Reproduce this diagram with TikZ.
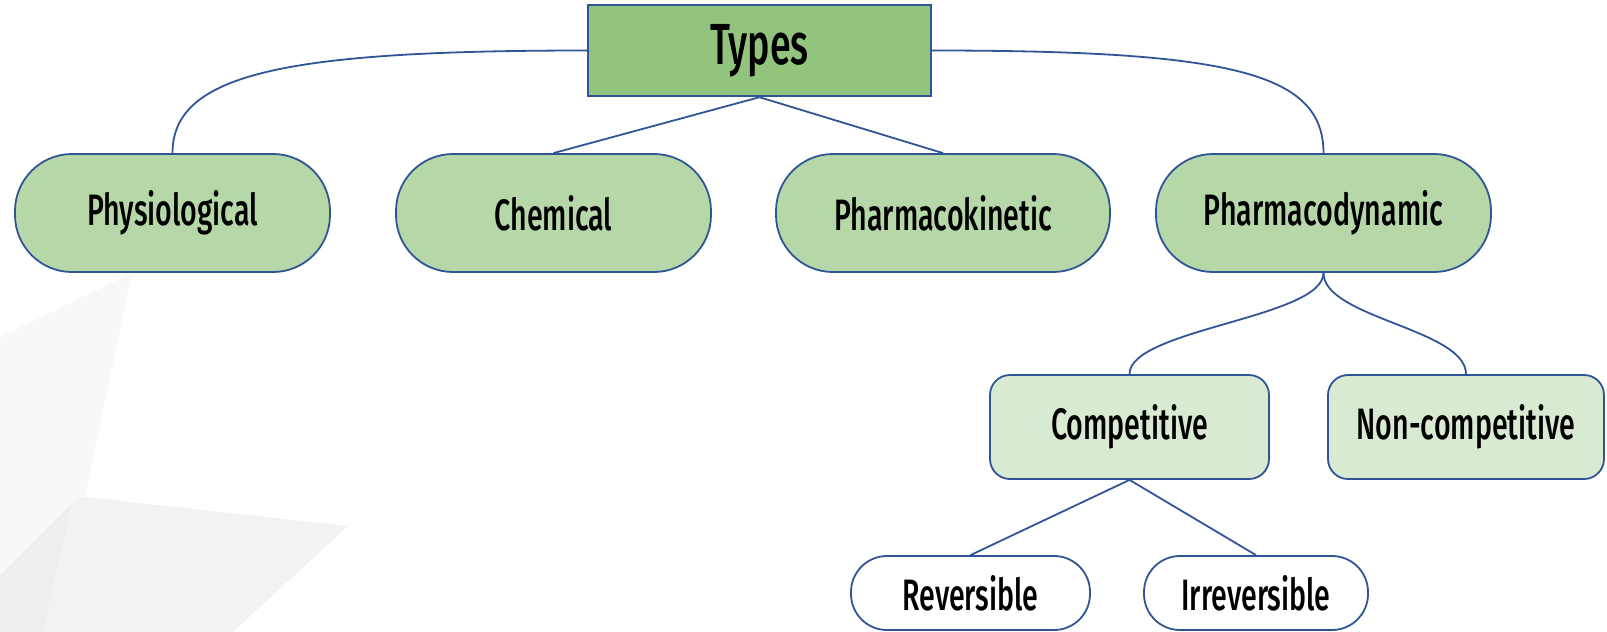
\documentclass[tikz,border=0pt]{standalone}
\usepackage{fontspec}
\setmainfont{Fira Sans Medium}[FakeStretch=0.65]
\definecolor{edge}{RGB}{47,85,151}
\definecolor{typesfill}{RGB}{147,196,125}
\definecolor{pillfill}{RGB}{182,215,168}
\definecolor{boxfill}{RGB}{217,234,211}
\definecolor{bgA}{RGB}{248,248,248}
\definecolor{bgB}{RGB}{242,242,242}
\definecolor{bgC}{RGB}{238,238,238}
\begin{document}
\begin{tikzpicture}[x=0.5pt,y=-0.5pt,
  typebox/.style={draw=edge, line width=1.2pt, fill=typesfill, minimum width=171.5pt, minimum height=45.5pt, inner sep=0pt, font=\fontsize{29}{32}\selectfont},
  pill/.style={draw=edge, line width=0.9pt, fill=pillfill, rounded corners=28.5pt, minimum height=59pt, inner sep=0pt, font=\fontsize{22}{25}\selectfont},
  subbox/.style={draw=edge, line width=0.9pt, fill=boxfill, rounded corners=10pt, minimum height=52pt, inner sep=0pt, font=\fontsize{22}{25}\selectfont},
  leaf/.style={draw=edge, line width=0.9pt, fill=white, rounded corners=18pt, minimum height=37pt, inner sep=0pt, font=\fontsize{22}{25}\selectfont},
  conn/.style={draw=edge, line width=0.9pt}]
\useasboundingbox (0,0) rectangle (1607,632);
% faint background shapes
\fill[bgA] (0,337) -- (132,273) -- (85,497) -- (0,575) -- cycle;
\fill[bgB] (85,497) -- (348,526) -- (233,632) -- (43,632) -- (72,503) -- cycle;
\fill[bgC] (0,575) -- (72,503) -- (43,632) -- (0,632) -- cycle;
% nodes
\node[typebox] (types) at (759.5,50.5) {Types};
\node[pill, minimum width=157.5pt] (phys) at (172.5,213) {Physiological};
\node[pill, minimum width=157.5pt] (chem) at (553.5,213) {Chemical};
\node[pill, minimum width=167pt] (pk) at (943,213) {Pharmacokinetic};
\node[pill, minimum width=167.5pt] (pd) at (1323.5,213) {Pharmacodynamic};
\node[subbox, minimum width=139.5pt] (comp) at (1129.5,427) {Competitive};
\node[subbox, minimum width=138pt] (noncomp) at (1466,427) {Non-competitive};
\node[leaf, minimum width=119.5pt] (rev) at (970.5,593) {Reversible};
\node[leaf, minimum width=112pt] (irr) at (1256,593) {Irreversible};
% connectors
\draw[conn] (types.west) .. controls +(-300,0) and +(0,-80) .. (phys.north);
\draw[conn] (types.east) .. controls +(300,0) and +(0,-80) .. (pd.north);
\draw[conn] (types.south) -- (chem.north);
\draw[conn] (types.south) -- (pk.north);
\draw[conn] (pd.south) .. controls +(0,45) and +(0,-45) .. (comp.north);
\draw[conn] (pd.south) .. controls +(0,45) and +(0,-45) .. (noncomp.north);
\draw[conn] (comp.south) -- (rev.north);
\draw[conn] (comp.south) -- (irr.north);
\end{tikzpicture}
\end{document}
